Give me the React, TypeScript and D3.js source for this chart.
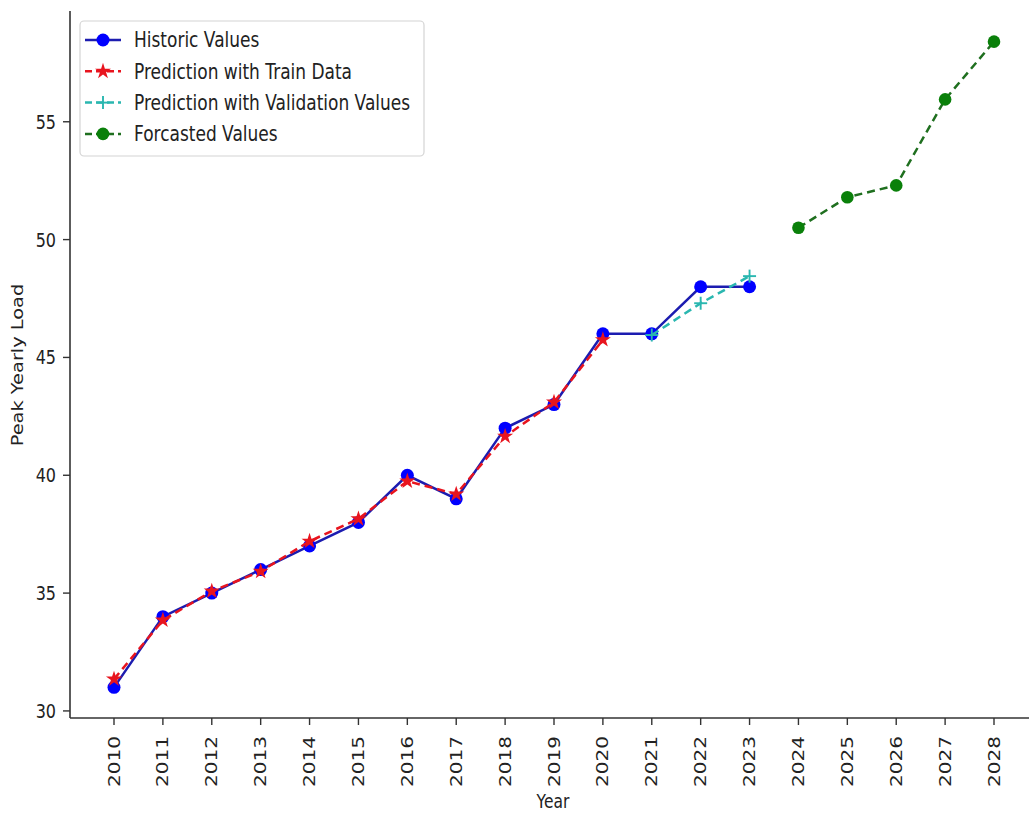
import React from "react";
import * as d3 from "d3";

// Peak yearly load: history, model fits, and forecast
const historicYears = [2010, 2011, 2012, 2013, 2014, 2015, 2016, 2017, 2018, 2019, 2020, 2021, 2022, 2023];
const historicValues = [31, 34, 35, 36, 37, 38, 40, 39, 42, 43, 46, 46, 48, 48];

const trainYears = [2010, 2011, 2012, 2013, 2014, 2015, 2016, 2017, 2018, 2019, 2020];
const trainValues = [31.35, 33.85, 35.08, 35.92, 37.2, 38.15, 39.75, 39.2, 41.65, 43.1, 45.75];

const validationYears = [2021, 2022, 2023];
const validationValues = [45.95, 47.3, 48.45];

const forecastYears = [2024, 2025, 2026, 2027, 2028];
const forecastValues = [50.5, 51.8, 52.3, 55.95, 58.4];

const tickYears = d3.range(2010, 2029);
const yTicks = [30, 35, 40, 45, 50, 55];

const W = 1029;
const H = 814;
const FONT = "DejaVu Sans, sans-serif";
// glyphs are drawn a little taller than wide
const TALL = 1.25;

const x = d3.scaleLinear().domain([2009.1, 2028.9]).range([70, 1038]);
const y = d3.scaleLinear().domain([29.7, 59.7]).range([718, 11]);

type Pt = [number, number];
const zip = (xs: number[], ys: number[]): Pt[] => xs.map((v, i) => [v, ys[i]]);
const line = d3.line<Pt>().x((d) => x(d[0])).y((d) => y(d[1]));

const starPath = d3.symbol(d3.symbolStar, 80)() as string;

function Plus({ cx, cy, color }: { cx: number; cy: number; color: string }) {
  const s = 6.5;
  return (
    <g stroke={color} strokeWidth={1.9}>
      <line x1={cx - s} y1={cy} x2={cx + s} y2={cy} />
      <line x1={cx} y1={cy - s} x2={cx} y2={cy + s} />
    </g>
  );
}

function Label({
  x0,
  y0,
  size,
  anchor = "start",
  rotate = false,
  children,
}: {
  x0: number;
  y0: number;
  size: number;
  anchor?: "start" | "middle" | "end";
  rotate?: boolean;
  children: React.ReactNode;
}) {
  const tf = rotate
    ? `translate(${x0},${y0}) rotate(-90) scale(${TALL},1)`
    : `translate(${x0},${y0}) scale(1,${TALL})`;
  return (
    <text transform={tf} dy="0.35em" textAnchor={anchor} fontSize={size} fill="#222">
      {children}
    </text>
  );
}

export default function App() {
  const hist = zip(historicYears, historicValues);
  const train = zip(trainYears, trainValues);
  const valid = zip(validationYears, validationValues);
  const fore = zip(forecastYears, forecastValues);

  const blueLine = "#1c1cb0";
  const blueDot = "#0000ff";
  const red = "#e8141e";
  const cyan = "#2ab7b0";
  const greenLine = "#1f6f1f";
  const greenDot = "#0a800a";

  const legendItems = [
    { label: "Historic Values", kind: "hist" },
    { label: "Prediction with Train Data", kind: "train" },
    { label: "Prediction with Validation Values", kind: "valid" },
    { label: "Forcasted Values", kind: "fore" },
  ];

  return (
    <svg width={W} height={H} style={{ position: "absolute", left: 0, top: 0, background: "#fff" }} fontFamily={FONT}>
      <rect x={0} y={0} width={W} height={H} fill="#fff" />

      {/* axes */}
      <line x1={70} y1={11} x2={70} y2={718} stroke="#333" strokeWidth={1.6} />
      <line x1={70} y1={718} x2={W} y2={718} stroke="#333" strokeWidth={1.6} />

      {yTicks.map((t) => (
        <g key={t}>
          <line x1={63} x2={70} y1={y(t)} y2={y(t)} stroke="#333" strokeWidth={1.4} />
          <Label x0={56} y0={y(t)} size={16} anchor="end">
            {t}
          </Label>
        </g>
      ))}

      {tickYears.map((t) => (
        <g key={t}>
          <line x1={x(t)} x2={x(t)} y1={718} y2={725} stroke="#333" strokeWidth={1.4} />
          <Label x0={x(t)} y0={736} size={16} anchor="end" rotate>
            {t}
          </Label>
        </g>
      ))}

      <Label x0={553} y0={801} size={15.5} anchor="middle">
        Year
      </Label>
      <Label x0={18} y0={365} size={15.5} anchor="middle" rotate>
        Peak Yearly Load
      </Label>

      {/* series */}
      <path d={line(hist) as string} fill="none" stroke={blueLine} strokeWidth={2.5} />
      {hist.map((d, i) => (
        <circle key={i} cx={x(d[0])} cy={y(d[1])} r={6.5} fill={blueDot} />
      ))}

      <path d={line(train) as string} fill="none" stroke={red} strokeWidth={2.5} strokeDasharray="8,5" />
      {train.map((d, i) => (
        <path key={i} d={starPath} transform={`translate(${x(d[0])},${y(d[1])})`} fill={red} />
      ))}

      <path d={line(valid) as string} fill="none" stroke={cyan} strokeWidth={2.5} strokeDasharray="8,5" />
      {valid.map((d, i) => (
        <Plus key={i} cx={x(d[0])} cy={y(d[1])} color={cyan} />
      ))}

      <path d={line(fore) as string} fill="none" stroke={greenLine} strokeWidth={2.5} strokeDasharray="8,5" />
      {fore.map((d, i) => (
        <circle key={i} cx={x(d[0])} cy={y(d[1])} r={6.3} fill={greenDot} />
      ))}

      {/* legend */}
      <rect x={80} y={21} width={344} height={135} rx={4} fill="#fff" stroke="#d4d4d4" strokeWidth={1.2} />
      {legendItems.map((it, i) => {
        const ly = 40 + i * 31.3;
        const x0 = 85;
        const x1 = 121;
        const mx = (x0 + x1) / 2;
        let mark: React.ReactNode = null;
        let stroke = blueLine;
        let dash: string | undefined = undefined;
        if (it.kind === "hist") {
          mark = <circle cx={mx} cy={ly} r={6.5} fill={blueDot} />;
        } else if (it.kind === "train") {
          stroke = red;
          dash = "7,4";
          mark = <path d={starPath} transform={`translate(${mx},${ly})`} fill={red} />;
        } else if (it.kind === "valid") {
          stroke = cyan;
          dash = "7,4";
          mark = <Plus cx={mx} cy={ly} color={cyan} />;
        } else {
          stroke = greenLine;
          dash = "7,4";
          mark = <circle cx={mx} cy={ly} r={6.3} fill={greenDot} />;
        }
        return (
          <g key={it.label}>
            <line x1={x0} x2={x1} y1={ly} y2={ly} stroke={stroke} strokeWidth={2.5} strokeDasharray={dash} />
            {mark}
            <Label x0={134} y0={ly} size={17}>
              {it.label}
            </Label>
          </g>
        );
      })}
    </svg>
  );
}
